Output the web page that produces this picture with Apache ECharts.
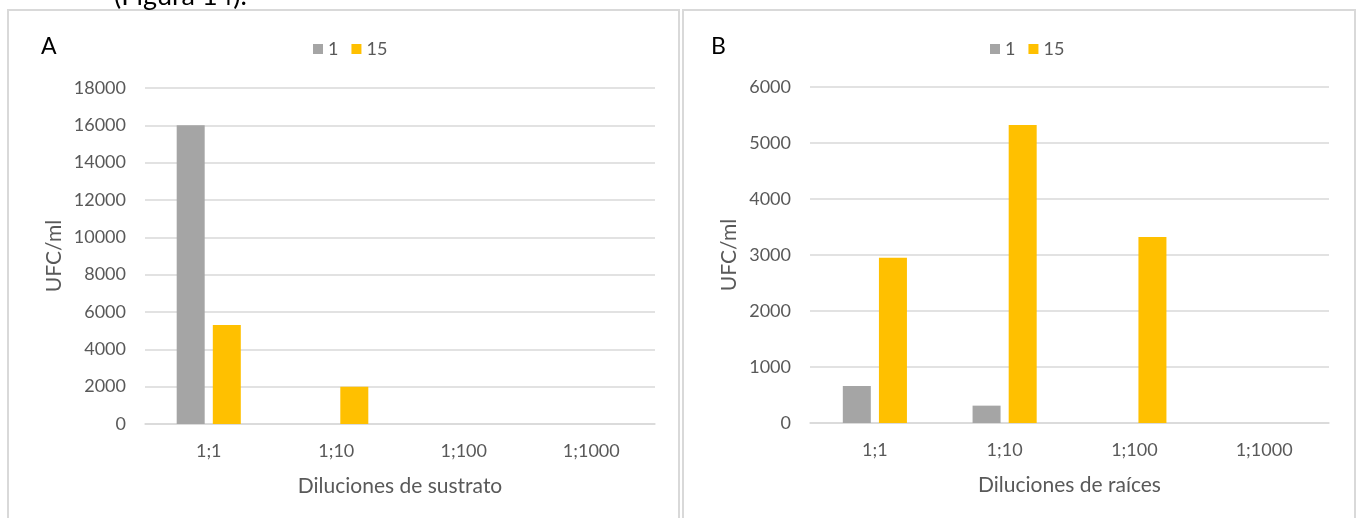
<!DOCTYPE html>
<html>
<head>
<meta charset="utf-8">
<script src="https://cdn.jsdelivr.net/npm/echarts@6/dist/echarts.min.js"></script>
<style>
html,body{margin:0;padding:0;background:#fff;}
#c{width:1359px;height:518px;}
</style>
</head>
<body>
<div id="c"></div>
<script>
const categories = ['1;1', '1;10', '1;100', '1;1000'];
const seriesNames = ['1', '15'];
const sustrato1 = [16000, 0, 0, 0];
const sustrato15 = [5300, 2000, 0, 0];
const raices1 = [660, 310, 0, 0];
const raices15 = [2950, 5320, 3320, 0];
const titleA = 'Diluciones de sustrato';
const titleB = 'Diluciones de raíces';
const yTitle = 'UFC/ml';

const FONT = 'Lato, "Open Sans", sans-serif';
const TXT = '#595959';
const GRID = '#d9d9d9';
const GRAY = '#a5a5a5';
const YELLOW = '#ffc000';

const chart = echarts.init(document.getElementById('c'), null, {renderer: 'canvas'});

function xAxis(gridIndex, name) {
  return {
    type: 'category', gridIndex, data: categories,
    name, nameLocation: 'middle', nameGap: 52,
    nameTextStyle: {color: TXT, fontSize: 21, fontFamily: FONT},
    axisLine: {show: true, lineStyle: {color: GRID, width: 1.5}},
    axisTick: {show: false},
    axisLabel: {color: TXT, fontSize: 18, fontFamily: FONT, margin: 18}
  };
}
function yAxis(gridIndex, max, interval, gap) {
  return {
    type: 'value', gridIndex, min: 0, max, interval,
    name: yTitle, nameLocation: 'middle', nameGap: gap,
    nameTextStyle: {color: TXT, fontSize: 21, fontFamily: FONT},
    axisLine: {show: false}, axisTick: {show: false},
    splitLine: {lineStyle: {color: GRID, width: 1.5}},
    axisLabel: {color: TXT, fontSize: 18, fontFamily: FONT, margin: 19,
                formatter: v => String(v)}
  };
}
function bar(name, data, idx, color) {
  return {
    name, type: 'bar', xAxisIndex: idx, yAxisIndex: idx, data,
    barWidth: 28, barGap: '29%',
    itemStyle: {color}, animation: false
  };
}
function legend(left) {
  return {
    data: seriesNames, left, top: 35, itemWidth: 10, itemHeight: 10,
    itemGap: 13, icon: 'rect',
    textStyle: {color: TXT, fontSize: 18, fontFamily: FONT}
  };
}

chart.setOption({
  animation: false,
  legend: [legend(308), legend(985)],
  grid: [
    {left: 145, top: 88, width: 510, height: 336},
    {left: 810, top: 87, width: 519, height: 336}
  ],
  xAxis: [xAxis(0, titleA), xAxis(1, titleB)],
  yAxis: [yAxis(0, 18000, 2000, 80), yAxis(1, 6000, 1000, 70)],
  series: [
    bar(seriesNames[0], sustrato1, 0, GRAY),
    bar(seriesNames[1], sustrato15, 0, YELLOW),
    bar(seriesNames[0], raices1, 1, GRAY),
    bar(seriesNames[1], raices15, 1, YELLOW)
  ],
  graphic: [
    {type: 'rect', shape: {x: 8, y: 10, width: 671, height: 530},
     style: {fill: 'none', stroke: GRID, lineWidth: 2}, z: -1},
    {type: 'rect', shape: {x: 683, y: 10, width: 672, height: 530},
     style: {fill: 'none', stroke: GRID, lineWidth: 2}, z: -1},
    {type: 'text', left: 114, top: -17,
     style: {text: '(Figura 14).', fill: '#000', fontSize: 27, fontFamily: FONT}},
    {type: 'text', left: 41, top: 35,
     style: {text: 'A', fill: '#000', fontSize: 23, fontFamily: FONT}},
    {type: 'text', left: 711, top: 35,
     style: {text: 'B', fill: '#000', fontSize: 23, fontFamily: FONT}}
  ]
});
</script>
</body>
</html>
